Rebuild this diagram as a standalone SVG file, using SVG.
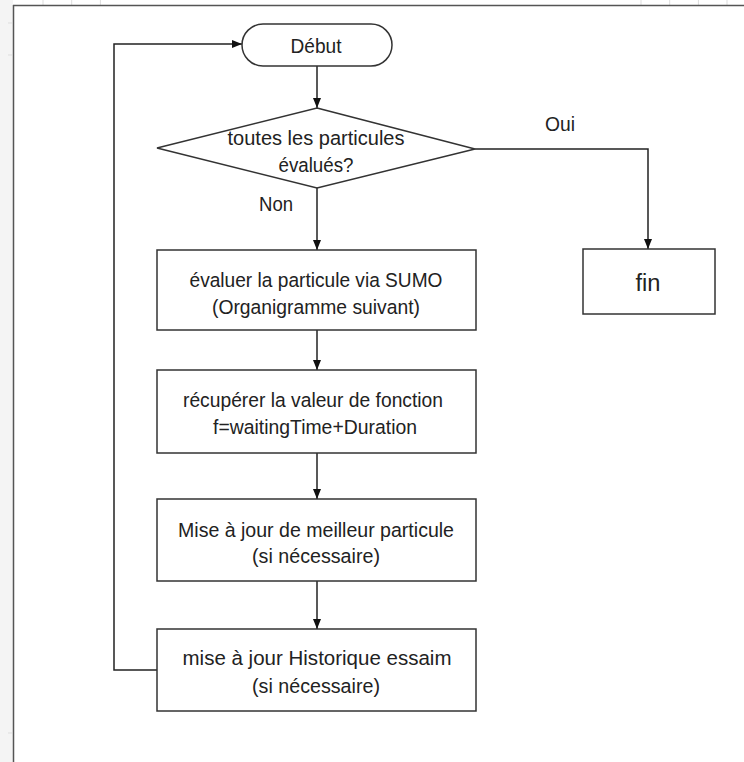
<svg xmlns="http://www.w3.org/2000/svg" width="744" height="762" viewBox="0 0 744 762">
<style>
.t{font-family:"Liberation Sans Narrow","Liberation Sans",Arial,sans-serif;font-size:20.5px;fill:#222;text-anchor:middle}
.n{fill:#fff;stroke:#333;stroke-width:1.5}
.c{fill:none;stroke:#222;stroke-width:1.5}
.tick{stroke:#ddd;stroke-width:1}
</style>
<defs>
<marker id="ah" viewBox="0 0 10 10" refX="10" refY="5" markerWidth="10" markerHeight="10" markerUnits="userSpaceOnUse" orient="auto">
<path d="M0,1 L10,5 L0,9 Z" fill="#111"/>
</marker>
</defs>
<rect x="0" y="0" width="744" height="762" fill="#fff"/>
<g id="frame">
<rect x="0" y="0" width="13" height="762" fill="#f4f4f4"/>
<g class="tick">
<line x1="43" y1="0" x2="43" y2="5"/><line x1="71.7" y1="0" x2="71.7" y2="5"/><line x1="100.4" y1="0" x2="100.4" y2="5"/>
<line x1="641" y1="0" x2="641" y2="5"/><line x1="669.7" y1="0" x2="669.7" y2="5"/><line x1="698.4" y1="0" x2="698.4" y2="5"/><line x1="727" y1="0" x2="727" y2="5"/>
<line x1="8" y1="23" x2="12" y2="23"/><line x1="8" y1="55" x2="12" y2="55"/><line x1="8" y1="733" x2="12" y2="733"/>
</g>
<line x1="13" y1="5.5" x2="744" y2="5.5" stroke="#555" stroke-width="1.5"/>
<line x1="13.5" y1="5" x2="13.5" y2="762" stroke="#555" stroke-width="1.5"/>
</g>
<g id="connectors">
<line class="c" x1="317" y1="66" x2="317" y2="108" marker-end="url(#ah)"/>
<polyline class="c" points="475,149 648,149 648,249" marker-end="url(#ah)"/>
<line class="c" x1="317" y1="188" x2="317" y2="250" marker-end="url(#ah)"/>
<line class="c" x1="317" y1="330" x2="317" y2="370" marker-end="url(#ah)"/>
<line class="c" x1="317" y1="453" x2="317" y2="499" marker-end="url(#ah)"/>
<line class="c" x1="317" y1="581" x2="317" y2="629" marker-end="url(#ah)"/>
<polyline class="c" points="157,670 114,670 114,44 242,44" marker-end="url(#ah)"/>
<text class="t" x="276" y="211" textLength="34" lengthAdjust="spacingAndGlyphs">Non</text>
<text class="t" x="560" y="131" textLength="30" lengthAdjust="spacingAndGlyphs">Oui</text>
</g>
<g id="debut">
<rect class="n" x="242" y="24" width="150" height="42" rx="21" ry="21"/>
<text class="t" x="316" y="53" textLength="51" lengthAdjust="spacingAndGlyphs">Début</text>
</g>
<g id="decision">
<polygon class="n" points="317,108 475,149 317,188 157,148"/>
<text class="t" x="316" y="145" textLength="177" lengthAdjust="spacingAndGlyphs">toutes les particules</text>
<text class="t" x="316" y="172" textLength="75" lengthAdjust="spacingAndGlyphs">évalués?</text>
</g>
<g id="fin">
<rect class="n" x="583" y="249" width="132" height="65"/>
<text class="t" x="648" y="291" style="font-size:23px" textLength="25" lengthAdjust="spacingAndGlyphs">fin</text>
</g>
<g id="evaluer">
<rect class="n" x="157" y="250" width="319" height="80"/>
<text class="t" x="316" y="287" textLength="253" lengthAdjust="spacingAndGlyphs">évaluer la particule via SUMO</text>
<text class="t" x="316" y="314" textLength="208" lengthAdjust="spacingAndGlyphs">(Organigramme suivant)</text>
</g>
<g id="recuperer">
<rect class="n" x="157" y="370" width="319" height="83"/>
<text class="t" x="313" y="407" textLength="260" lengthAdjust="spacingAndGlyphs">récupérer la valeur de fonction</text>
<text class="t" x="315" y="434" textLength="204" lengthAdjust="spacingAndGlyphs">f=waitingTime+Duration</text>
</g>
<g id="meilleur">
<rect class="n" x="157" y="499" width="319" height="82"/>
<text class="t" x="316" y="537" textLength="276" lengthAdjust="spacingAndGlyphs">Mise à jour de meilleur particule</text>
<text class="t" x="316" y="563" textLength="128" lengthAdjust="spacingAndGlyphs">(si nécessaire)</text>
</g>
<g id="historique">
<rect class="n" x="157" y="629" width="319" height="82"/>
<text class="t" x="317" y="665" textLength="269" lengthAdjust="spacingAndGlyphs">mise à jour Historique essaim</text>
<text class="t" x="316" y="693" textLength="128" lengthAdjust="spacingAndGlyphs">(si nécessaire)</text>
</g>
</svg>
